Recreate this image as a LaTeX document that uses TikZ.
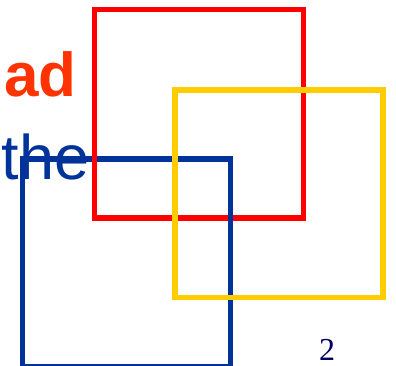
\documentclass[tikz,border=0pt]{standalone}
\usepackage{fontspec}
\setmainfont{Liberation Serif}
\setsansfont{Liberation Sans}
\usepackage{xcolor}
\usepackage{tikz}
\usetikzlibrary{positioning}
\definecolor{sqred}{RGB}{255,0,0}
\definecolor{sqyellow}{RGB}{255,204,0}
\definecolor{sqblue}{RGB}{0,51,153}
\definecolor{headorange}{RGB}{255,51,0}
\definecolor{pagenavy}{RGB}{0,0,102}

\begin{document}
\begin{tikzpicture}[
    x=1pt,y=-1pt,
    sq/.style={line width=5.5pt,line cap=rect},
    big/.style={inner sep=0pt,font=\sffamily\fontsize{63}{63}\selectfont},
    pg/.style={inner sep=0pt,text=pagenavy,font=\fontsize{32}{32}\selectfont}
  ]
  \useasboundingbox (0,0) rectangle (396,366);

  % corners of the three squares
  \coordinate (rtl) at (94.7,9.5);    \coordinate (rbr) at (303.3,218);
  \coordinate (ytl) at (174.8,90);    \coordinate (ybr) at (383,297.7);
  \coordinate (btl) at (22.7,158.8);  \coordinate (bbr) at (230.7,366.5);

  \node[big,font=\sffamily\bfseries\fontsize{62}{62}\selectfont,
    text=headorange,anchor=base east] (head) at (77,97) {ad};
  \node[big,text=sqblue,anchor=base west] (word) at (1.5,180) {the};

  % blue top edge lies under the red square
  \draw[sq,sqblue] (btl) -- (btl -| bbr);
  \draw[sq,sqred] (rtl) rectangle (rbr);
  \draw[sq,sqblue] (btl -| bbr) -- (bbr) -- (bbr -| btl) -- (btl);
  \draw[sq,sqyellow] (ytl) rectangle (ybr);

  \node[pg,anchor=base west] (page) at (319,360) {2};
\end{tikzpicture}
\end{document}
